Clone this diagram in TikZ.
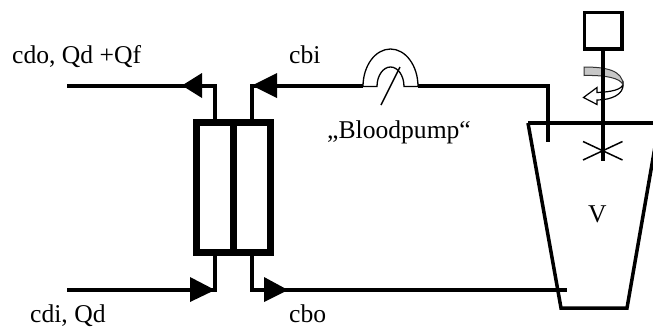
\documentclass[tikz,border=0pt]{standalone}
\usepackage{fontspec}
\setmainfont{Liberation Serif}
\tikzset{
  pipe/.style={draw=black,line width=4pt,line join=miter},
  thickbox/.style={draw=black,line width=7pt,line join=miter},
  thinline/.style={draw=black,line width=1.5pt},
  head/.style={fill=black,draw=none},
  label/.style={anchor=base west,inner sep=0pt,font=\fontsize{25.6pt}{30pt}\selectfont},
}
\begin{document}
\begin{tikzpicture}[x=1pt,y=-1pt]
\useasboundingbox (0,0) rectangle (653,327);
\clip (0,0) rectangle (653,327);
% named points
\coordinate (cdoEnd) at (67,85.5);
\coordinate (cdoCorner) at (215,85.5);
\coordinate (dTop) at (215,122);
\coordinate (bTop) at (252,122);
\coordinate (cbiCorner) at (252,85.5);
\coordinate (pumpL) at (363,85.5);
\coordinate (pumpR) at (418,85.5);
\coordinate (inCorner) at (548,85.5);
\coordinate (inEnd) at (548,142);
\coordinate (cdiEnd) at (67,290);
\coordinate (dBot) at (215,254);
\coordinate (cdiCorner) at (215,290);
\coordinate (bBot) at (252,254);
\coordinate (cboCorner) at (252,290);
\coordinate (cboEnd) at (567,290);
% pipes
\draw[pipe] (cdoEnd) -- (cdoCorner) -- (dTop);
\draw[pipe] (bTop) -- (cbiCorner) -- (pumpL);
\draw[pipe] (pumpR) -- (inCorner) -- (inEnd);
\draw[pipe] (cdiEnd) -- (cdiCorner) -- (dBot);
\draw[pipe] (bBot) -- (cboCorner) -- (cboEnd);
% arrowheads
\fill[head] (182,85.5) -- (202,73) -- (202,98) -- cycle;
\fill[head] (252,85.5) -- (277,73) -- (277,98) -- cycle;
\fill[head] (215,290) -- (190,277) -- (190,302) -- cycle;
\fill[head] (288,290) -- (264,277) -- (264,302) -- cycle;
% exchanger
\draw[thickbox] (196.5,122.5) rectangle (270.5,252.5);
\draw[thickbox] (233,122.5) -- (233,252.5);
% pump
\draw[draw=black,line width=1.3pt,fill=white] (363,86.5) arc[start angle=180,end angle=360,x radius=27.5,y radius=37.5]
  -- (404,86.5) arc[start angle=360,end angle=180,x radius=13.5,y radius=19.5] -- cycle;
\draw[thinline] (381,105) -- (400,67);
% tank
\draw[pipe,line width=3.5pt] (528,123) -- (561,308) -- (627,308) -- (660,118);
\draw[pipe,line width=3.5pt] (528,123) -- (660,123);
% motor
\draw[draw=black,line width=3.5pt] (584.5,12.5) rectangle (622,49);
% rotation arrow
\draw[draw=black,line width=1.2pt,fill=white] (623,84) .. controls (622,90) and (610,92) .. (597,92.5) -- (597,87.5) -- (583.5,97.5) -- (597,104.5) -- (597,100) .. controls (612,100) and (624,94) .. (623,84) -- cycle;
\draw[draw=black!80,line width=1pt,fill=black!22] (584,67) .. controls (605,67) and (623,70) .. (623,85) .. controls (621,78) and (605,75) .. (584,75.5) -- cycle;
% shaft and stirrer
\draw[pipe] (603,49) -- (603,161);
\draw[thinline] (583,141.5) -- (622.5,160);
\draw[thinline] (583,160) -- (622.5,141.5);
% labels
\node[label] (tcdo) at (12,63) {cdo, Qd +Qf};
\node[label] (tcbi) at (289,63) {cbi};
\node[label] (tpump) at (327,138) {„Bloodpump“};
\node[label] (tv) at (588,222) {V};
\node[label] (tcdi) at (30,322) {cdi, Qd};
\node[label] (tcbo) at (289,322) {cbo};
\end{tikzpicture}
\end{document}
